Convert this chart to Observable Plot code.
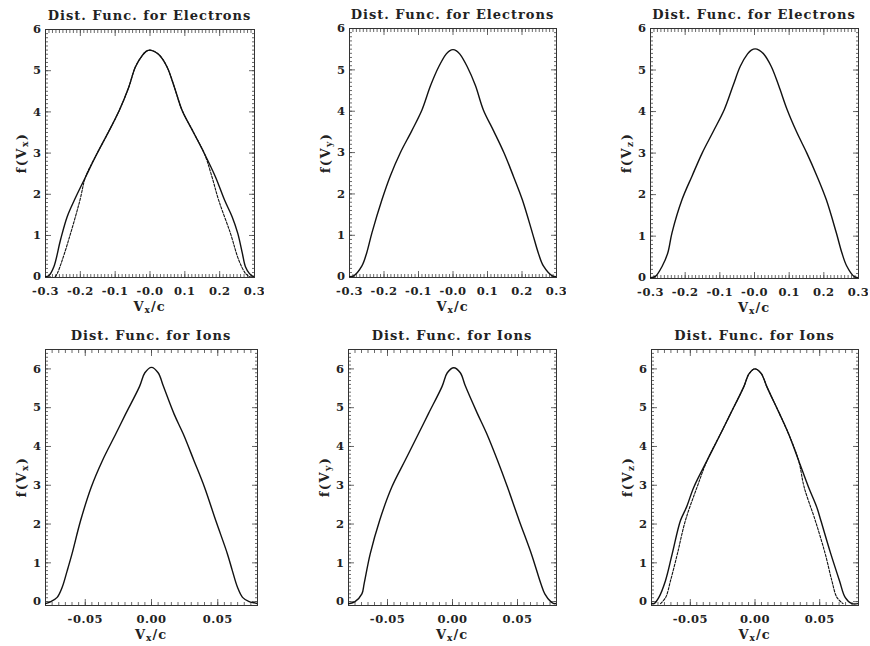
<!DOCTYPE html>
<html><head><meta charset="utf-8">
<script src="https://cdn.jsdelivr.net/npm/d3@7"></script>
<script src="https://cdn.jsdelivr.net/npm/@observablehq/plot@0.6"></script>
<style>
body{margin:0;background:#fff;}
#root{position:relative;width:870px;height:646px;overflow:hidden;font-family:"DejaVu Serif",serif;color:#222;}
.title{position:absolute;font-size:13px;font-weight:bold;letter-spacing:1px;white-space:nowrap;transform:translate(-50%,-50%);}
.xlab{position:absolute;font-size:13px;font-weight:bold;letter-spacing:1px;white-space:nowrap;transform:translate(-50%,-50%);}
.ylab{position:absolute;font-size:13px;font-weight:bold;letter-spacing:1.5px;white-space:nowrap;transform:translate(-50%,-50%) rotate(-90deg);}
sub{font-size:9px;vertical-align:-2px;}
.panel{position:absolute;}
</style></head><body><div id="root"></div>
<script>
// ---- Data ----
const elecTitle = "Dist. Func. for Electrons";
const ionTitle = "Dist. Func. for Ions";
const ySubs = ["x","y","z"];

const elecTicks = [-0.3,-0.2,-0.1,0,0.1,0.2,0.3];
const elecTickLabels = ["-0.3","-0.2","-0.1","-0.0","0.1","0.2","0.3"];
const ionTicks = [-0.05,0,0.05];
const ionTickLabels = ["-0.05","0.00","0.05"];
const fTicks = [0,1,2,3,4,5,6];

// Electrons, column 1 (two snapshots)
const e1OuterX = [-0.300,-0.290,-0.276,-0.257,-0.238,-0.217,-0.185,-0.152,-0.120,-0.088,-0.061,-0.042,-0.022,-0.011,0.000,0.014,0.028,0.049,0.070,0.092,0.125,0.156,0.188,0.214,0.236,0.252,0.265,0.274,0.285,0.293,0.300];
const e1OuterY = [0.00,0.03,0.24,0.89,1.45,1.86,2.42,2.99,3.50,4.04,4.60,5.09,5.37,5.47,5.50,5.46,5.37,5.09,4.60,4.04,3.50,2.99,2.42,1.86,1.45,1.05,0.57,0.24,0.08,0.02,0.00];
const e1InnerX = [-0.272,-0.266,-0.252,-0.228,-0.201,-0.185,-0.152,-0.120,-0.088,-0.061,-0.042,-0.022,-0.011,0.000,0.014,0.028,0.049,0.070,0.092,0.125,0.156,0.178,0.197,0.231,0.255,0.274,0.285];
const e1InnerY = [0.00,0.08,0.40,1.05,1.86,2.42,2.99,3.50,4.04,4.60,5.09,5.37,5.47,5.50,5.46,5.37,5.09,4.60,4.04,3.50,2.99,2.42,1.86,1.05,0.40,0.08,0.00];
// Electrons, column 2
const e2X = [-0.300,-0.288,-0.264,-0.250,-0.235,-0.206,-0.182,-0.153,-0.120,-0.090,-0.065,-0.041,-0.020,-0.010,0.000,0.010,0.020,0.041,0.065,0.088,0.118,0.148,0.175,0.201,0.230,0.247,0.262,0.288,0.300];
const e2Y = [0.00,0.02,0.26,0.58,1.06,1.86,2.43,2.99,3.52,4.03,4.62,5.08,5.38,5.46,5.49,5.46,5.38,5.08,4.62,4.03,3.52,2.99,2.43,1.86,1.06,0.58,0.26,0.02,0.00];
// Electrons, column 3
const e3X = [-0.300,-0.286,-0.266,-0.250,-0.238,-0.209,-0.180,-0.151,-0.119,-0.087,-0.062,-0.041,-0.020,-0.009,0.002,0.013,0.026,0.048,0.070,0.094,0.122,0.151,0.180,0.207,0.236,0.252,0.266,0.287,0.300];
const e3Y = [0.00,0.03,0.28,0.60,1.08,1.88,2.45,3.00,3.52,4.05,4.62,5.09,5.39,5.48,5.51,5.48,5.39,5.09,4.62,4.05,3.50,3.00,2.45,1.88,1.08,0.60,0.28,0.03,0.00];

// Ions, column 1
const i1X = [-0.080,-0.076,-0.0712,-0.0674,-0.0636,-0.0600,-0.0535,-0.0455,-0.0370,-0.0270,-0.0195,-0.0090,-0.0050,0.0000,0.0050,0.0090,0.0170,0.0240,0.0320,0.0400,0.0485,0.0573,0.0610,0.0649,0.0687,0.0737,0.0775,0.080];
const i1Y = [-0.05,0.00,0.11,0.37,0.80,1.23,2.09,2.95,3.64,4.32,4.84,5.55,5.90,6.04,5.90,5.55,4.84,4.32,3.64,2.95,2.09,1.23,0.80,0.37,0.11,0.00,-0.03,-0.05];
// Ions, column 2
const i2X = [-0.080,-0.079,-0.0750,-0.0697,-0.0680,-0.0633,-0.0560,-0.0466,-0.0363,-0.0260,-0.0183,-0.0080,-0.0040,0.0010,0.0060,0.0100,0.0190,0.0262,0.0345,0.0422,0.0512,0.0607,0.0680,0.0710,0.0756,0.0780,0.080];
const i2Y = [-0.05,-0.05,0.00,0.20,0.46,1.23,2.10,2.96,3.65,4.34,4.86,5.55,5.90,6.03,5.90,5.55,4.86,4.34,3.65,2.96,2.10,1.23,0.46,0.20,0.00,-0.05,-0.05];
// Ions, column 3 (two snapshots)
const i3OuterX = [-0.080,-0.078,-0.0743,-0.0692,-0.0640,-0.0576,-0.0530,-0.0473,-0.0370,-0.0267,-0.0190,-0.0088,-0.0045,0.0000,0.0048,0.0093,0.0190,0.0260,0.0337,0.0414,0.0478,0.0509,0.0586,0.0653,0.0697,0.0748,0.080];
const i3OuterY = [-0.05,-0.05,0.11,0.54,1.23,2.09,2.43,2.95,3.64,4.32,4.84,5.53,5.88,6.00,5.88,5.53,4.84,4.32,3.64,2.95,2.43,2.09,1.23,0.54,0.11,-0.05,-0.05];
const i3InnerX = [-0.073,-0.0690,-0.0653,-0.0600,-0.0538,-0.0448,-0.0370,-0.0267,-0.0190,-0.0088,-0.0045,0.0000,0.0048,0.0093,0.0190,0.0260,0.0337,0.0380,0.0466,0.0543,0.0594,0.0633,0.068];
const i3InnerY = [-0.05,0.11,0.54,1.23,2.09,2.95,3.64,4.32,4.84,5.53,5.88,6.00,5.88,5.53,4.84,4.32,3.64,2.95,2.09,1.23,0.54,0.11,-0.05];

// ---- Layout ----
const ML = 45, MT = 10, MR = 10, MB = 40;
const panels = [
  {frame:[45,29,254,277], kind:"e", sub:0, curves:[[e1OuterX,e1OuterY,false],[e1InnerX,e1InnerY,true]]},
  {frame:[349,28,556,277], kind:"e", sub:1, curves:[[e2X,e2Y,false]]},
  {frame:[650,28,858,278], kind:"e", sub:2, curves:[[e3X,e3Y,false]]},
  {frame:[45,349,257,605], kind:"i", sub:0, curves:[[i1X,i1Y,false]]},
  {frame:[348,349,556,605], kind:"i", sub:1, curves:[[i2X,i2Y,false]]},
  {frame:[651,349,858,605], kind:"i", sub:2, curves:[[i3OuterX,i3OuterY,false],[i3InnerX,i3InnerY,true]]}
];

const root = document.getElementById("root");
const ink = "#222";

for (const p of panels) {
  const [L,T,R,B] = p.frame;
  const fw = R - L, fh = B - T;
  const isE = p.kind === "e";
  const xDomain = isE ? [-0.3,0.3] : [-0.08,0.08];
  const yDomain = isE ? [-0.02,6] : [-0.1,6.5];
  const xMajor = isE ? elecTicks : ionTicks;
  const xLabels = isE ? elecTickLabels : ionTickLabels;
  const xMinor = isE ? d3.range(-30,31).map(i=>i/100) : d3.range(-16,17).map(i=>i*0.005);
  const yMinor = isE ? d3.range(0,61).map(i=>i/10) : d3.range(0,66).map(i=>i/10);

  const tickOpts = (size) => ({tickSize:size, fill:"none", tickFormat:()=>"", label:null, stroke:"#444", strokeWidth:0.8});
  const marks = [
    Plot.axisX(xMinor, {...tickOpts(-3), anchor:"bottom"}),
    Plot.axisX(xMinor, {...tickOpts(-3), anchor:"top"}),
    Plot.axisX(xMajor, {...tickOpts(-6), anchor:"bottom"}),
    Plot.axisX(xMajor, {...tickOpts(-6), anchor:"top"}),
    Plot.axisY(yMinor, {...tickOpts(-3), anchor:"left"}),
    Plot.axisY(yMinor, {...tickOpts(-3), anchor:"right"}),
    Plot.axisY(fTicks, {...tickOpts(-6), anchor:"left"}),
    Plot.axisY(fTicks, {...tickOpts(-6), anchor:"right"}),
    Plot.axisX(xMajor, {anchor:"bottom", tickSize:0, tickPadding:9, label:null, fill:ink,
      tickFormat: d => xLabels[xMajor.indexOf(d)]}),
    Plot.axisY(fTicks, {anchor:"left", tickSize:0, tickPadding:4, label:null, fill:ink,
      tickFormat: d => String(d)}),
    Plot.frame({stroke:"#333", strokeWidth:1})
  ];
  for (const [xs, ys, dashed] of p.curves) {
    marks.push(Plot.line(xs, {x: xs, y: ys, curve:"catmull-rom", stroke:"#111",
      strokeWidth: dashed ? 1.1 : 1.4, strokeDasharray: dashed ? "2.5,1.5" : null, clip:true}));
  }
  const svg = Plot.plot({
    width: fw + ML + MR, height: fh + MT + MB,
    marginLeft: ML, marginTop: MT, marginRight: MR, marginBottom: MB,
    x: {domain: xDomain},
    y: {domain: yDomain},
    style: {fontFamily:'"DejaVu Serif", serif', fontSize:"11.5px", fontWeight:"bold", letterSpacing:"0.5px", color:ink, background:"transparent"},
    marks
  });
  const wrap = document.createElement("div");
  wrap.className = "panel";
  wrap.style.left = (L - ML) + "px";
  wrap.style.top = (T - MT) + "px";
  wrap.appendChild(svg);
  root.appendChild(wrap);

  const cx = (L + R) / 2, cy = (T + B) / 2;
  const t = document.createElement("div");
  t.className = "title";
  t.textContent = isE ? elecTitle : ionTitle;
  t.style.left = cx + "px"; t.style.top = (T - 14) + "px";
  root.appendChild(t);

  const xl = document.createElement("div");
  xl.className = "xlab";
  xl.innerHTML = "V<sub>x</sub>/c";
  xl.style.left = cx + "px"; xl.style.top = (B + 30) + "px";
  root.appendChild(xl);

  const yl = document.createElement("div");
  yl.className = "ylab";
  yl.innerHTML = "f(V<sub>" + ySubs[p.sub] + "</sub>)";
  yl.style.left = (L - 23) + "px"; yl.style.top = cy + "px";
  root.appendChild(yl);
}
</script></body></html>
